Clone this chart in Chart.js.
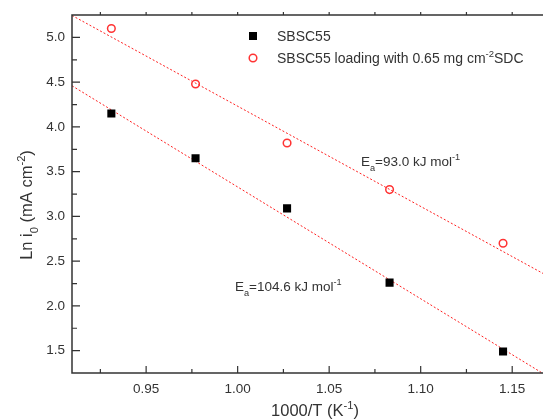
<!DOCTYPE html>
<html>
<head>
<meta charset="utf-8">
<script src="https://cdn.jsdelivr.net/npm/chart.js@4.4.1/dist/chart.umd.min.js"></script>
<style>
  html, body { margin: 0; padding: 0; background: #fff; overflow: hidden; }
  #wrap { width: 560px; height: 419px; }
</style>
</head>
<body>
<div id="wrap"><canvas id="myChart" width="560" height="419"></canvas></div>
<script>
// values
var invT = [0.931, 0.977, 1.027, 1.083, 1.145];
var lnI0Bare = [4.15, 3.65, 3.09, 2.26, 1.49];
var lnI0Loaded = [5.10, 4.48, 3.82, 3.30, 2.70];

// linear fit lines (end points)
var fitX = [0.9095, 1.176];
var fitBare = [4.46, 1.13];
var fitLoaded = [5.246, 2.26];

// tick labels
var xTicks = [0.95, 1.00, 1.05, 1.10, 1.15];
var yTicks = [1.5, 2.0, 2.5, 3.0, 3.5, 4.0, 4.5, 5.0];

function pts(xs, ys) {
  return xs.map(function (x, i) { return { x: x, y: ys[i] }; });
}

var FONT = '"Liberation Sans", Arial, sans-serif';
var TXT = '#333';

// text with sub/superscripts
function richWidth(ctx, segs, size) {
  var w = 0;
  segs.forEach(function (s) {
    var fs = s.sub || s.sup ? size * 0.68 : size;
    ctx.font = fs + 'px ' + FONT;
    w += ctx.measureText(s.t).width;
  });
  return w;
}
function drawRich(ctx, x, y, segs, size) {
  ctx.textAlign = 'left';
  ctx.textBaseline = 'alphabetic';
  segs.forEach(function (s) {
    var fs = s.sub || s.sup ? size * 0.68 : size;
    var dy = s.sub ? size * 0.38 : (s.sup ? -size * 0.42 : 0);
    ctx.font = fs + 'px ' + FONT;
    ctx.fillText(s.t, x, y + dy);
    x += ctx.measureText(s.t).width;
  });
}

var framePlugin = {
  id: 'frame',
  afterDatasetsDraw: function (chart) {
    var ctx = chart.ctx, a = chart.chartArea;
    var xs = chart.scales.x, ys = chart.scales.y;
    ctx.save();
    ctx.strokeStyle = '#333';
    ctx.lineWidth = 1.5;
    ctx.beginPath();
    ctx.rect(a.left, a.top, a.right - a.left, a.bottom - a.top);
    ctx.stroke();

    ctx.lineWidth = 1.2;
    ctx.beginPath();
    var v, px, major;
    for (v = 0.925; v < 1.175; v += 0.025) {
      px = xs.getPixelForValue(v);
      major = Math.abs(Math.round(v / 0.05) * 0.05 - v) < 1e-6;
      ctx.moveTo(px, a.bottom);
      ctx.lineTo(px, a.bottom - (major ? 7 : 4));
      ctx.moveTo(px, a.top);
      ctx.lineTo(px, a.top - 3);
    }
    for (v = 1.5; v <= 5.01; v += 0.25) {
      px = ys.getPixelForValue(v);
      major = Math.abs(Math.round(v / 0.5) * 0.5 - v) < 1e-6;
      ctx.moveTo(a.left, px);
      ctx.lineTo(a.left + (major ? 8 : 5), px);
    }
    ctx.stroke();

    // legend
    ctx.fillStyle = '#000';
    ctx.fillRect(249, 32, 8, 8);
    ctx.strokeStyle = '#ff3333';
    ctx.lineWidth = 1.5;
    ctx.beginPath();
    ctx.arc(253, 58, 3.8, 0, Math.PI * 2);
    ctx.stroke();
    ctx.fillStyle = TXT;
    drawRich(ctx, 277, 41, [{ t: 'SBSC55' }], 14);
    drawRich(ctx, 277, 63, [{ t: 'SBSC55 loading with 0.65 mg cm' }, { t: '-2', sup: true }, { t: 'SDC' }], 14);

    // activation energies
    drawRich(ctx, 361, 166, [{ t: 'E' }, { t: 'a', sub: true }, { t: '=93.0 kJ mol' }, { t: '-1', sup: true }], 13.5);
    drawRich(ctx, 235, 291, [{ t: 'E' }, { t: 'a', sub: true }, { t: '=104.6 kJ mol' }, { t: '-1', sup: true }], 13.5);

    // axis titles
    var xt = [{ t: '1000/T (K' }, { t: '-1', sup: true }, { t: ')' }];
    drawRich(ctx, 315 - richWidth(ctx, xt, 16.5) / 2, 416, xt, 16.5);

    var yt = [{ t: 'Ln i' }, { t: '0', sub: true }, { t: ' (mA cm' }, { t: '-2', sup: true }, { t: ')' }];
    ctx.translate(32, 205);
    ctx.rotate(-Math.PI / 2);
    drawRich(ctx, -richWidth(ctx, yt, 16.5) / 2, 0, yt, 16.5);
    ctx.restore();
  }
};

var ctx = document.getElementById('myChart').getContext('2d');

var myChart = new Chart(ctx, {
  type: 'scatter',
  data: {
    datasets: [
      {
        label: 'SBSC55',
        data: pts(invT, lnI0Bare),
        pointStyle: 'rect',
        pointRadius: 5.7,
        backgroundColor: '#000',
        borderColor: '#000',
        borderWidth: 0
      }, {
        label: 'SBSC55 loading with 0.65 mg cm-2 SDC',
        data: pts(invT, lnI0Loaded),
        pointStyle: 'circle',
        pointRadius: 3.8,
        backgroundColor: 'rgba(0,0,0,0)',
        borderColor: '#ff3333',
        borderWidth: 1.5
      }, {
        label: 'fit bare',
        data: pts(fitX, fitBare),
        showLine: true,
        pointRadius: 0,
        borderColor: '#ff2020',
        borderWidth: 1,
        borderDash: [2, 2]
      }, {
        label: 'fit loaded',
        data: pts(fitX, fitLoaded),
        showLine: true,
        pointRadius: 0,
        borderColor: '#ff2020',
        borderWidth: 1,
        borderDash: [2, 2]
      }
    ]
  },
  options: {
    responsive: false,
    animation: false,
    layout: { padding: { top: 15, right: 2, left: 0, bottom: 0 } },
    plugins: {
      legend: { display: false },
      tooltip: { enabled: false }
    },
    scales: {
      x: {
        type: 'linear',
        min: 0.9095,
        max: 1.173,
        grid: { display: false, drawTicks: false },
        border: { display: false },
        afterFit: function (s) { s.height = 46; },
        afterBuildTicks: function (s) { s.ticks = xTicks.map(function (v) { return { value: v }; }); },
        ticks: {
          padding: 8,
          color: TXT,
          font: { family: FONT, size: 13.5 },
          callback: function (v) { return Number(v).toFixed(2); }
        }
      },
      y: {
        type: 'linear',
        min: 1.25,
        max: 5.25,
        grid: { display: false, drawTicks: false },
        border: { display: false },
        afterFit: function (s) { s.width = 72; },
        afterBuildTicks: function (s) { s.ticks = yTicks.map(function (v) { return { value: v }; }); },
        ticks: {
          padding: 7,
          color: TXT,
          font: { family: FONT, size: 13.5 },
          callback: function (v) { return Number(v).toFixed(1); }
        }
      }
    }
  },
  plugins: [framePlugin]
});
</script>
</body>
</html>
